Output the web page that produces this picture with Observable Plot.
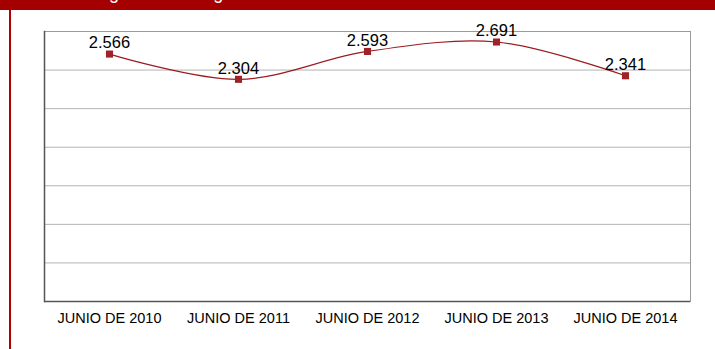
<!DOCTYPE html>
<html><head><meta charset="utf-8">
<script src="https://cdn.jsdelivr.net/npm/d3@7"></script>
<script src="https://cdn.jsdelivr.net/npm/@observablehq/plot@0.6"></script>
<style>
html,body{margin:0;padding:0;background:#fff;}
#wrap{position:relative;width:715px;height:349px;overflow:hidden;font-family:"Liberation Sans",Arial,sans-serif;}
#banner{position:absolute;left:0;top:0;width:715px;height:10px;background:#A40000;overflow:hidden;}
#banner span{position:absolute;left:26px;top:-16px;line-height:18px;color:#fff;font-size:18px;white-space:nowrap;}
#vline{position:absolute;left:9px;top:10px;width:2px;height:339px;background:#B00000;}
#chart{position:absolute;left:0;top:0;}
</style></head>
<body><div id="wrap"><div id="chart"></div><div id="banner"><span>Evolución general de ingresos de la entidad</span></div><div id="vline"></div></div>
<script>
const categories = ["JUNIO DE 2010","JUNIO DE 2011","JUNIO DE 2012","JUNIO DE 2013","JUNIO DE 2014"];
const values = [2566, 2304, 2593, 2691, 2341];
const labels = ["2.566","2.304","2.593","2.691","2.341"];
const yTicks = [0,400,800,1200,1600,2000,2400,2800];

const data = categories.map((c,i)=>({cat:c, v:values[i], label:labels[i]}));

const chart = Plot.plot({
  width: 715, height: 349,
  marginLeft: 44, marginRight: 25, marginTop: 31, marginBottom: 48,
  style: {fontFamily: '"Liberation Sans", Arial, sans-serif', background: "transparent"},
  x: {type: "point", domain: categories, padding: 0.5, label: null},
  y: {domain: [0, 2800], axis: null},
  marks: [
    Plot.ruleY(yTicks.slice(1), {stroke: "#b4b4b4", strokeWidth: 1}),
    Plot.frame({stroke: "#9a9a9a", strokeWidth: 1}),
    Plot.axisX({tickSize: 0, tickPadding: 11, fontSize: 14.5, fill: "#000", label: null}),
    Plot.ruleY([0], {stroke: "#555", strokeWidth: 1.5}),
    Plot.frame({anchor: "left", stroke: "#555", strokeWidth: 1.5}),
    Plot.line(data, {x: "cat", y: "v", curve: "catmull-rom", stroke: "#9B1B1E", strokeWidth: 1.2}),
    Plot.dot(data, {x: "cat", y: "v", symbol: "square", r: 4, fill: "#9E2227", stroke: "none"}),
    Plot.text(data, {x: "cat", y: "v", text: "label", dy: -11, fontSize: 16.5, fill: "#000"})
  ]
});
document.getElementById("chart").appendChild(chart);
</script></body></html>
